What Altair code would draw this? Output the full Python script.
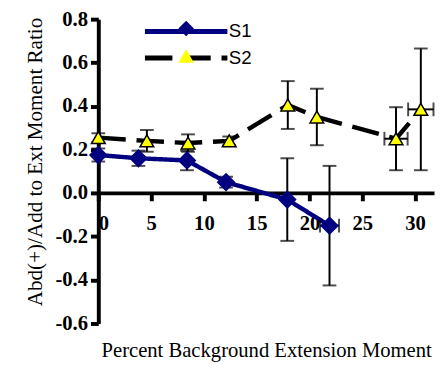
import altair as alt
import pandas as pd

# ---- data ----
series_names = ["S1", "S2"]

s1_x = [0.0, 3.8, 8.4, 12.1, 17.9, 21.9]
s1_y = [0.175, 0.16, 0.15, 0.05, -0.03, -0.15]
s1_yerr = [0.03, 0.035, 0.045, 0.025, 0.19, 0.275]
s1_xerr = [0, 0, 0, 0, 0, 0.9]

s2_x = [0.0, 4.6, 8.5, 12.4, 17.95, 20.7, 28.2, 30.55]
s2_y = [0.255, 0.24, 0.23, 0.24, 0.405, 0.35, 0.25, 0.385]
s2_yerr = [0.02, 0.05, 0.04, 0.02, 0.11, 0.13, 0.145, 0.28]
s2_xerr = [0, 0, 0, 0, 0, 0, 1.1, 1.2]

x_ticks = [0, 5, 10, 15, 20, 25, 30]
y_ticks = [-0.6, -0.4, -0.2, 0.0, 0.2, 0.4, 0.6, 0.8]

x_title = "Percent Background Extension Moment"
y_title = "Abd(+)/Add to Ext Moment Ratio"

# ---- build table ----
rows = []
for name, xs, ys, ye, xe in [("S1", s1_x, s1_y, s1_yerr, s1_xerr),
                              ("S2", s2_x, s2_y, s2_yerr, s2_xerr)]:
    for i in range(len(xs)):
        rows.append({"series": name, "marker": name, "x": xs[i], "y": ys[i],
                     "ylo": ys[i] - ye[i], "yhi": ys[i] + ye[i],
                     "xlo": xs[i] - xe[i], "xhi": xs[i] + xe[i], "xerr": xe[i]})
df = pd.DataFrame(rows)

NAVY = "#000080"
SERIF = "Liberation Serif"
SANS = "Liberation Sans"

xscale = alt.Scale(domain=[0, 31.8], nice=False, zero=False)
yscale = alt.Scale(domain=[-0.6, 0.8], nice=False, zero=False)

x_axis = alt.Axis(values=x_ticks, format="d", offset=-133, grid=False,
                  domainColor="black", domainWidth=4, tickColor="black",
                  tickWidth=4, tickSize=8, labelFont=SERIF, labelFontWeight="bold",
                  labelFontSize=21, labelColor="black", labelPadding=12,
                  titleFont=SERIF, titleFontWeight="normal", titleFontSize=21,
                  titleColor="black", titleY=161, titleBaseline="middle")
y_axis = alt.Axis(values=y_ticks, grid=False,
                  labelExpr="(datum.value < -0.001 ? '-' : '') + format(abs(datum.value), '.1f')",
                  domainColor="black", domainWidth=4, tickColor="black",
                  tickWidth=4, tickSize=8, labelFont=SERIF, labelFontWeight="bold",
                  labelFontSize=21, labelColor="black", labelPadding=3,
                  titleFont=SERIF, titleFontWeight="normal", titleFontSize=21.5,
                  titleColor="black", titleX=-64, titleY=145,
                  titleBaseline="middle", titleAlign="center")


def X(field):
    return alt.X(field, type="quantitative", scale=xscale, axis=x_axis, title=x_title)


def Y(field):
    return alt.Y(field, type="quantitative", scale=yscale, axis=y_axis, title=y_title)


base = alt.Chart(df)

line_legend = alt.Legend(orient="none", legendX=77, legendY=0, title=None,
                         symbolType="M-4.2,0L4.2,0", symbolSize=400, symbolStrokeWidth=5,
                         labelFont=SANS, labelFontSize=19, labelColor="black",
                         labelOffset=31, padding=0, rowPadding=4)

lines = base.mark_line(strokeWidth=4.5).encode(
    x=X("x"), y=Y("y"),
    stroke=alt.Stroke("series:N", scale=alt.Scale(domain=series_names, range=[NAVY, "black"]),
                      legend=line_legend),
    strokeDash=alt.StrokeDash("series:N", scale=alt.Scale(domain=series_names,
                                                          range=[[1, 0], [28, 11]]),
                              legend=line_legend),
)

vbars = base.mark_rule(strokeWidth=2, color="black").encode(
    x=X("x"), y=Y("ylo"), y2="yhi")
vcaps = base.transform_fold(["ylo", "yhi"], as_=["k", "capy"]).mark_tick(
    orient="horizontal", size=14, thickness=2, color="black").encode(x=X("x"), y=Y("capy"))

hb = base.transform_filter("datum.xerr > 0")
hbars = hb.mark_rule(strokeWidth=2, color="black").encode(x=X("xlo"), x2="xhi", y=Y("y"))
hcaps = hb.transform_fold(["xlo", "xhi"], as_=["k", "capx"]).mark_tick(
    orient="vertical", size=14, thickness=2, color="black").encode(x=X("capx"), y=Y("y"))

marker_legend = alt.Legend(orient="none", legendX=80, legendY=0, title=None,
                           symbolSize=250, symbolStrokeColor="black", symbolStrokeWidth=1.5,
                           labelOpacity=0, padding=0, rowPadding=6, labelFontSize=19)

points = base.mark_point(filled=True, opacity=1, strokeWidth=1.5).encode(
    x=X("x"), y=Y("y"),
    shape=alt.Shape("marker:N", scale=alt.Scale(range=["diamond", "triangle-up"]),
                    legend=marker_legend),
    fill=alt.Fill("marker:N", scale=alt.Scale(range=[NAVY, "#FFFF00"]),
                  legend=marker_legend),
    size=alt.condition("datum.series == 'S1'", alt.value(289), alt.value(196)),
    stroke=alt.condition("datum.series == 'S1'", alt.value(NAVY), alt.value("black")),
)

chart = alt.layer(lines, vbars, vcaps, hbars, hcaps, points).properties(
    width=342, height=310,
    autosize=alt.AutoSizeParams(type="none"),
    padding={"left": 92, "top": 8, "right": 1, "bottom": 42},
    background="white",
).configure(font=SERIF).configure_view(stroke=None)

chart.save("out.html", embed_options={"renderer": "svg", "actions": False})
